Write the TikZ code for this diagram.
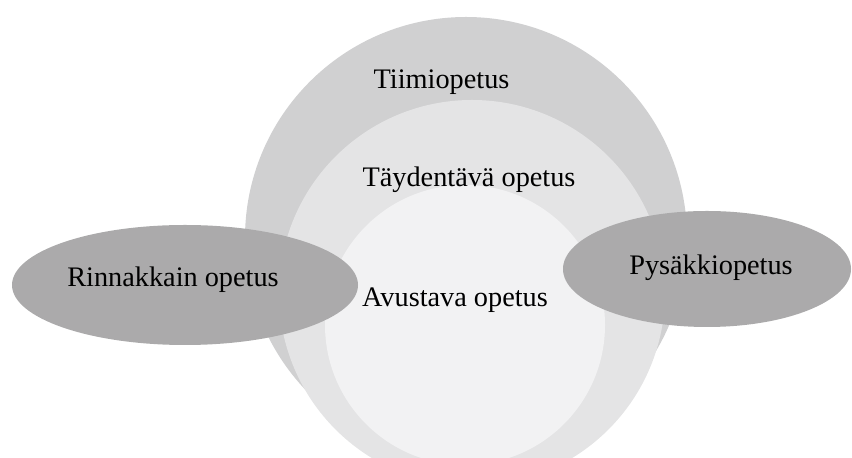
\documentclass[tikz,border=0pt]{standalone}
\usepackage{fontspec}
\setmainfont{Liberation Serif}

\definecolor{tTiimi}{RGB}{208,208,209}
\definecolor{tTayd}{RGB}{228,228,229}
\definecolor{tAvus}{RGB}{242,242,243}
\definecolor{tSide}{RGB}{171,170,171}

\begin{document}
\begin{tikzpicture}[thick, font=\fontsize{16.1}{19}\selectfont]

  \useasboundingbox (0,0) rectangle (17.04,9.16);

  % ---- tiimiopetus ----
  \fill[tTiimi] (9.32,4.40) circle (4.42);
  % ---- taydentava ----
  \fill[tTayd] (9.44,3.30) circle (3.86);
  % ---- avustava ----
  \fill[tAvus] (9.30,2.66) circle (2.80);
  % ---- side ellipses ----
  \fill[tSide] (3.70,3.46) ellipse (3.46 and 1.20);
  \fill[tSide] (14.14,3.78) ellipse (2.88 and 1.16);

  % ---- labels ----
  \node[anchor=center] (tiimi) at (8.83,7.52) {Tiimiopetus};
  \node[anchor=center] (taydentava) at (9.38,5.56) {Täydentävä opetus};
  \node[anchor=center] (avustava) at (9.10,3.16) {Avustava opetus};
  \node[anchor=center] (rinnakkain) at (3.46,3.56) {Rinnakkain opetus};
  \node[anchor=center] (pysakki) at (14.22,3.80) {Pysäkkiopetus};

\end{tikzpicture}
\end{document}
